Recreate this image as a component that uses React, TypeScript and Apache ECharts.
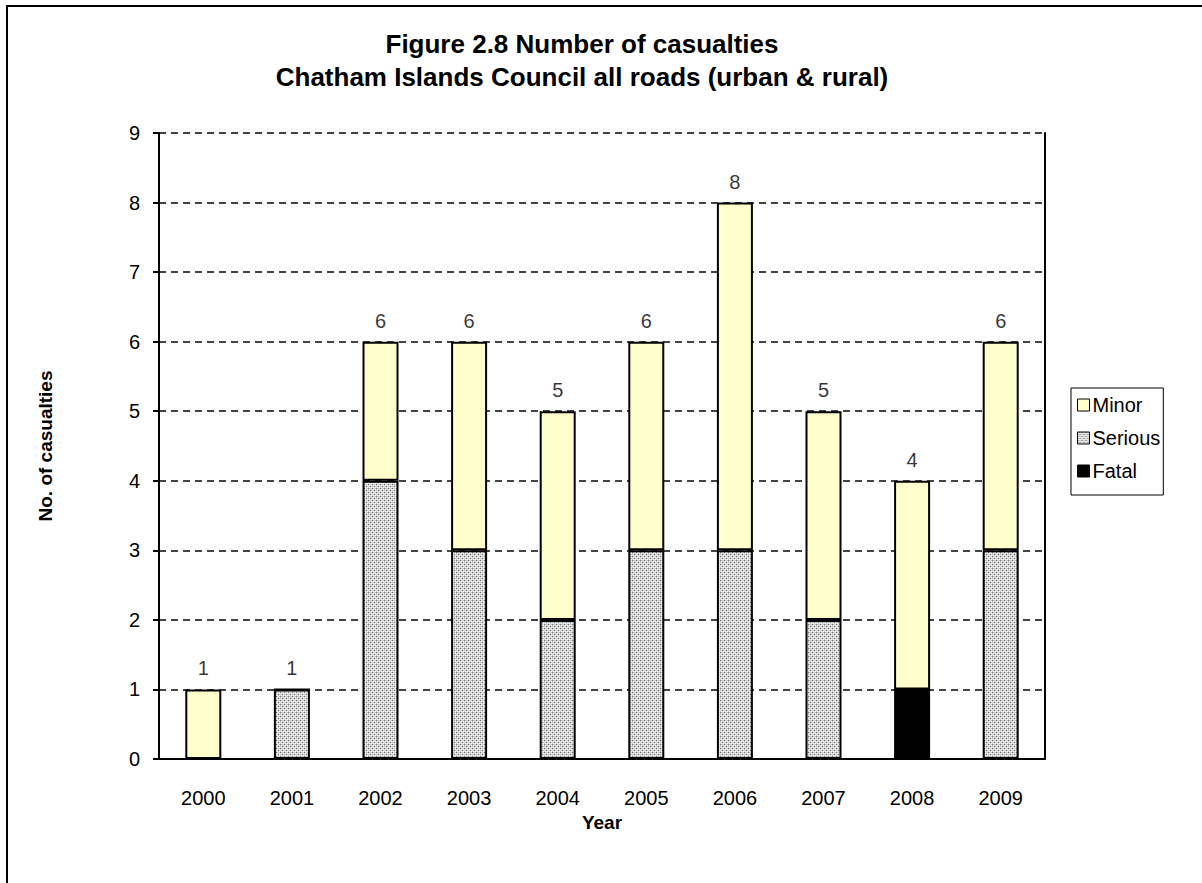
import React, { useEffect, useRef } from "react";
import * as echarts from "echarts";

const years = ["2000", "2001", "2002", "2003", "2004", "2005", "2006", "2007", "2008", "2009"];
const fatal = [0, 0, 0, 0, 0, 0, 0, 0, 1, 0];
const serious = [0, 1, 4, 3, 2, 3, 3, 2, 0, 3];
const minor = [1, 0, 2, 3, 3, 3, 5, 3, 3, 3];
const totals = [1, 1, 6, 6, 5, 6, 8, 5, 4, 6];
const titleLines = ["Figure 2.8 Number of casualties", "Chatham Islands Council all roads (urban & rural)"];

const FONT = "Arial, 'Liberation Sans', sans-serif";

function makePattern(): HTMLCanvasElement {
  const c = document.createElement("canvas");
  c.width = 4;
  c.height = 4;
  const ctx = c.getContext("2d")!;
  ctx.fillStyle = "#cfcfcf";
  ctx.fillRect(0, 0, 4, 4);
  ctx.fillStyle = "#ffffff";
  ctx.fillRect(1, 1, 1, 1);
  ctx.fillRect(3, 3, 1, 1);
  ctx.fillRect(1, 3, 1, 1);
  ctx.fillRect(3, 1, 1, 1);
  ctx.fillStyle = "#777777";
  ctx.fillRect(0, 0, 1, 1);
  ctx.fillRect(2, 2, 1, 1);
  return c;
}

export default function App() {
  const ref = useRef<HTMLDivElement>(null);
  useEffect(() => {
    document.body.style.margin = "0";
    const chart = echarts.init(ref.current!, null, { renderer: "svg" });
    const pattern = { image: makePattern(), repeat: "repeat" } as any;
    const barBase = {
      type: "bar",
      stack: "total",
      barWidth: 36,
    };
    chart.setOption({
      animation: false,
      backgroundColor: "#ffffff",
      textStyle: { fontFamily: FONT },
      title: {
        text: titleLines.join("\n"),
        left: 577,
        textAlign: "center",
        top: 22,
        textStyle: { fontFamily: FONT, fontSize: 26, fontWeight: "bold", color: "#000", lineHeight: 33 },
      },
      graphic: [
        {
          type: "rect",
          shape: { x: 7, y: 6, width: 1300, height: 1000 },
          style: { fill: "none", stroke: "#000", lineWidth: 2 },
          silent: true,
        },
      ],
      legend: {
        orient: "vertical",
        left: 1071,
        top: 388,
        data: ["Minor", "Serious", "Fatal"],
        itemWidth: 12,
        itemHeight: 12,
        itemGap: 13,
        padding: [7, 3, 14, 6],
        borderColor: "#000",
        borderWidth: 1,
        icon: "rect",
        itemStyle: { borderWidth: 1, borderColor: "#000" },
        textStyle: { fontFamily: FONT, fontSize: 20, color: "#000", lineHeight: 20, padding: [0, 0, 0, -2] },
      },
      grid: { left: 159, right: 157, top: 133, bottom: 124, containLabel: false },
      xAxis: {
        type: "category",
        data: years,
        name: "Year",
        nameLocation: "middle",
        nameGap: 41,
        nameTextStyle: { fontFamily: FONT, fontSize: 19, fontWeight: "bold", color: "#000" },
        axisLine: { lineStyle: { color: "#000", width: 2 } },
        axisTick: { show: false },
        axisLabel: { fontFamily: FONT, fontSize: 20, color: "#000", margin: 29 },
      },
      yAxis: [
        {
          type: "value",
          min: 0,
          max: 9,
          interval: 1,
          name: "No. of casualties",
          nameLocation: "middle",
          nameGap: 104,
          nameTextStyle: { fontFamily: FONT, fontSize: 19, fontWeight: "bold", color: "#000" },
          axisLine: { show: true, lineStyle: { color: "#000", width: 2 } },
          axisTick: { show: true, length: 6, lineStyle: { color: "#000", width: 2 } },
          axisLabel: { fontFamily: FONT, fontSize: 20, color: "#000", margin: 19 },
          splitLine: { show: true, lineStyle: { color: "#444", type: [7, 5], width: 2 } },
        },
        {
          type: "value",
          min: 0,
          max: 9,
          interval: 1,
          position: "right",
          axisLine: { show: true, lineStyle: { color: "#000", width: 2 } },
          axisTick: { show: false },
          axisLabel: { show: false },
          splitLine: { show: false },
        },
      ],
      series: [
        {
          ...barBase,
          name: "Fatal",
          data: fatal,
          itemStyle: { color: "#000000", borderColor: "#000", borderWidth: 2 },
        },
        {
          ...barBase,
          name: "Serious",
          data: serious,
          itemStyle: { color: pattern, borderColor: "#000", borderWidth: 2 },
        },
        {
          ...barBase,
          name: "Minor",
          data: minor,
          itemStyle: { color: "#ffffcc", borderColor: "#000", borderWidth: 2 },
        },
        {
          type: "scatter",
          name: "Total",
          data: totals,
          symbolSize: 0,
          silent: true,
          label: {
            show: true,
            position: "top",
            distance: 11,
            fontFamily: FONT,
            fontSize: 20,
            color: "#000",
            formatter: (p: any) => String(p.value),
          },
        },
      ],
    });
    return () => chart.dispose();
  }, []);
  return <div ref={ref} style={{ width: 1202, height: 883 }} />;
}
